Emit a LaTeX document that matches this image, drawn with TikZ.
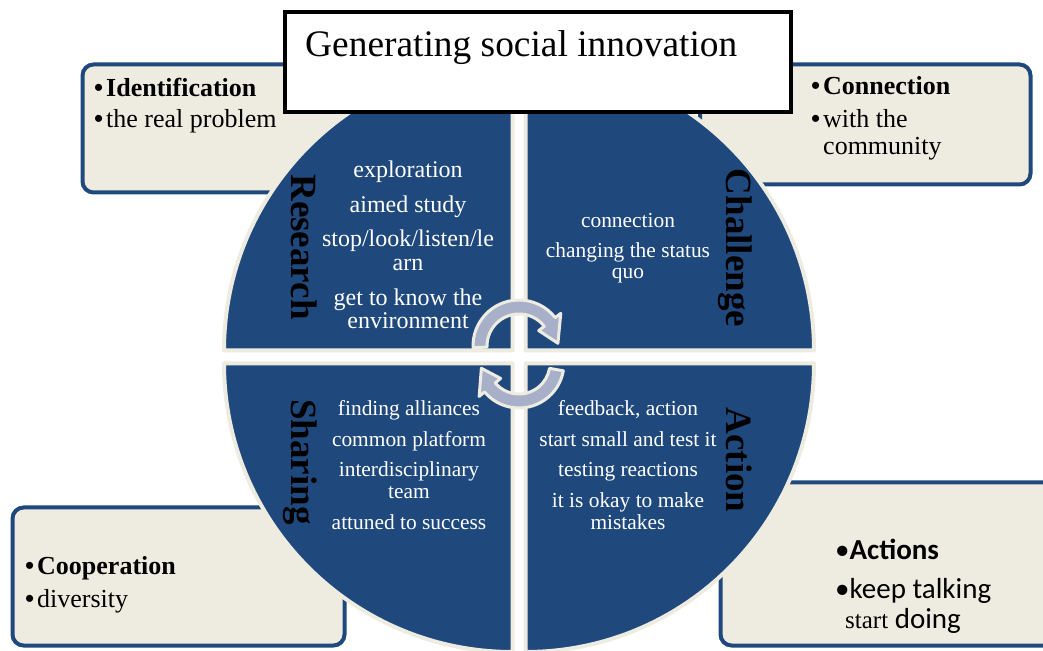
\documentclass[tikz,border=0pt]{standalone}
\usepackage{fontspec}
\setmainfont{Liberation Serif}
\newfontfamily\calibri{Carlito}
\newfontfamily\bulfont{Liberation Sans}
\definecolor{qblue}{HTML}{1F497D}
\definecolor{qbeige}{HTML}{EEECE1}
\definecolor{arrowfill}{HTML}{A7B0C8}
\newcommand\bigbul{\makebox[12pt][l]{\bulfont\mdseries •}}
\begin{document}
\begin{tikzpicture}[x=1pt,y=1pt,
  sidebox/.style={fill=qbeige, draw=qblue, line width=4pt, rounded corners=11pt},
  quad/.style={fill=qblue, draw=qbeige, line width=4pt, line join=round},
  cyc/.style={fill=arrowfill, draw=qbeige, line width=3pt, line join=round},
  lbl/.style={font=\fontsize{37}{40}\selectfont\bfseries, rotate=-90, anchor=base, inner sep=0pt},
  rtxt/.style={font=\fontsize{24}{26}\selectfont, text=white, anchor=base, inner sep=0pt},
  qtxt/.style={font=\fontsize{21.4}{23}\selectfont, text=white, anchor=base, inner sep=0pt},
  btxt/.style={font=\fontsize{26}{28}\selectfont, anchor=base west, inner sep=0pt},
  ctxt/.style={font=\calibri\fontsize{29}{31}\selectfont, anchor=base west, inner sep=0pt},
  titlebox/.style={fill=white, draw=black, line width=4pt}]
\useasboundingbox (0,0) rectangle (1043,650);
\begin{scope}
\clip (0,0) rectangle (1043,650);
% side boxes
\draw[sidebox] (82.5,585.5) rectangle (400,457.5);
\draw[sidebox] (700,585.5) rectangle (1030.5,465.5);
\draw[sidebox] (12.5,142.5) rectangle (344.5,4.5);
\draw[sidebox] (720.5,167.5) rectangle (1070,4.5);
% quadrants
\filldraw[quad] (512.5,299.5) -- ++(180:288.5pt) arc[start angle=180,end angle=90,radius=288.5pt] -- cycle;
\filldraw[quad] (525.5,299.5) -- ++(90:288.5pt) arc[start angle=90,end angle=0,radius=288.5pt] -- cycle;
\filldraw[quad] (512.5,286.5) -- ++(180:288.5pt) arc[start angle=180,end angle=270,radius=288.5pt] -- cycle;
\filldraw[quad] (525.5,286.5) -- ++(270:288.5pt) arc[start angle=270,end angle=360,radius=288.5pt] -- cycle;
% cycle arrows
\begin{scope}[shift={(519,304)}]
\filldraw[cyc] (182:46pt) arc[start angle=182,end angle=38,radius=46pt] -- (38:53pt) -- (4:39pt) -- (38:25pt) -- (38:32pt) arc[start angle=38,end angle=182,radius=32pt] -- cycle;
\end{scope}
\begin{scope}[shift={(519,287)}]
\filldraw[cyc] (-10:45pt) arc[start angle=-10,end angle=-140,radius=45pt] -- (-140:52pt) -- (-172:38pt) -- (-140:24pt) -- (-140:31pt) arc[start angle=-140,end angle=-10,radius=31pt] -- cycle;
\end{scope}
\end{scope}
% title
\draw[titlebox] (285,638) rectangle (791,538);
\node[anchor=base west, inner sep=0pt, font=\fontsize{37.4}{40}\selectfont] (title) at (305,593) {Generating social innovation};
% side box texts
\node[btxt] (tl1) at (94,553) {\bigbul\textbf{Identification}};
\node[btxt] (tl2) at (94,522) {\bigbul the real problem};
\node[btxt] (tr1) at (811,555) {\bigbul\textbf{Connection}};
\node[btxt] (tr2) at (811,522) {\bigbul with the};
\node[btxt] (tr3) at (823,495) {community};
\node[btxt] (bl1) at (25,75) {\bigbul\textbf{Cooperation}};
\node[btxt] (bl2) at (25,42) {\bigbul diversity};
\node[ctxt] (br1) at (835,90) {•\textbf{Actions}};
\node[ctxt] (br2) at (835,52) {•keep talking};
\node[ctxt] (br3) at (845,22) {{\rmfamily\fontsize{25}{27}\selectfont start} doing};
% quadrant labels
\node[lbl] (research) at (291,403) {Research};
\node[lbl] (challenge) at (726,402) {Challenge};
\node[lbl] (sharing) at (291,188) {Sharing};
\node[lbl] (action) at (726,190) {Action};
% research texts
\node[rtxt] (r1) at (408,472) {exploration};
\node[rtxt] (r2) at (408,437) {aimed study};
\node[rtxt] (r3) at (408,403) {stop/look/listen/le};
\node[rtxt] (r4) at (408,379) {arn};
\node[rtxt] (r5) at (408,344) {get to know the};
\node[rtxt] (r6) at (408,321) {environment};
% challenge texts
\node[qtxt] (c1) at (628,422) {connection};
\node[qtxt] (c2) at (628,392) {changing the status};
\node[qtxt] (c3) at (628,371) {quo};
% sharing texts
\node[qtxt] (s1) at (409,234) {finding alliances};
\node[qtxt] (s2) at (409,203) {common platform};
\node[qtxt] (s3) at (409,173) {interdisciplinary};
\node[qtxt] (s4) at (409,151) {team};
\node[qtxt] (s5) at (409,120) {attuned to success};
% action texts
\node[qtxt] (a1) at (628,234) {feedback, action};
\node[qtxt] (a2) at (628,203) {start small and test it};
\node[qtxt] (a3) at (628,173) {testing reactions};
\node[qtxt] (a4) at (628,142) {it is okay to make};
\node[qtxt] (a5) at (628,120) {mistakes};
\end{tikzpicture}
\end{document}
